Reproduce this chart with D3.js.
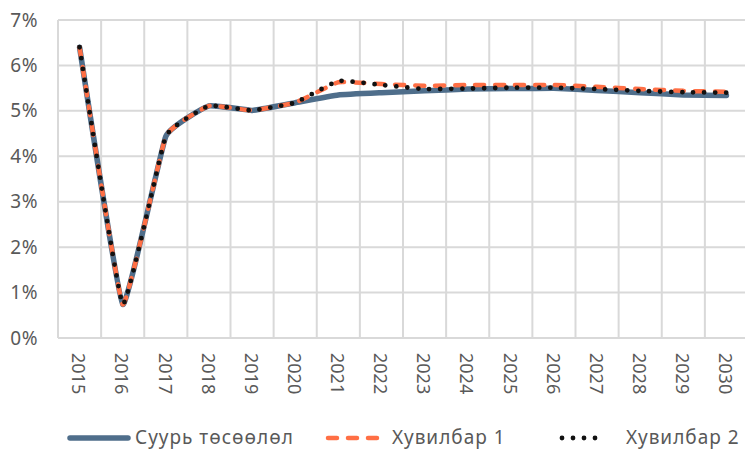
<!DOCTYPE html>
<html>
<head>
<meta charset="utf-8">
<script src="https://cdn.jsdelivr.net/npm/d3@7"></script>
<style>
  body { margin: 0; background: #fff; }
  text { font-family: "Noto Sans", "Open Sans", sans-serif; fill: #595959; }
</style>
</head>
<body>
<div id="chart"></div>
<script>
// years on the x axis
const years = ["2015","2016","2017","2018","2019","2020","2021","2022",
               "2023","2024","2025","2026","2027","2028","2029","2030"];

// values in percent
const baseline = [6.40, 0.74, 4.44, 5.11, 5.01, 5.18, 5.35, 5.40,
                  5.44, 5.48, 5.49, 5.50, 5.45, 5.40, 5.35, 5.34];
const scenario1 = [6.40, 0.74, 4.44, 5.11, 5.01, 5.18, 5.63, 5.59,
                   5.55, 5.57, 5.57, 5.57, 5.53, 5.48, 5.44, 5.42];
const scenario2 = [6.40, 0.74, 4.44, 5.11, 5.01, 5.18, 5.66, 5.57,
                   5.48, 5.49, 5.51, 5.51, 5.48, 5.44, 5.41, 5.40];

const yTicks = [0, 1, 2, 3, 4, 5, 6, 7];

const seriesNames = ["Суурь төсөөлөл", "Хувилбар 1", "Хувилбар 2"];

const W = 745, H = 450;
const plot = {left: 58, right: 748, top: 20, bottom: 338};

const svg = d3.select("#chart").append("svg")
  .attr("width", W).attr("height", H);

const x = d3.scaleBand().domain(years).range([plot.left, plot.right]);
const y = d3.scaleLinear().domain([0, 7]).range([plot.bottom, plot.top]);

// grid
const grid = svg.append("g").attr("stroke", "#d9d9d9").attr("stroke-width", 2);
grid.selectAll("line.h")
  .data(yTicks)
  .enter().append("line")
  .attr("x1", plot.left).attr("x2", plot.right)
  .attr("y1", d => y(d)).attr("y2", d => y(d));
grid.selectAll("line.v")
  .data(years.map(d => x(d)).concat([plot.right]))
  .enter().append("line")
  .attr("x1", d => d).attr("x2", d => d)
  .attr("y1", plot.top).attr("y2", plot.bottom);

// y axis
const yAxis = svg.append("g")
  .attr("transform", `translate(${plot.left - 20},0)`)
  .call(d3.axisLeft(y).tickValues(yTicks).tickFormat(d => d + "%").tickSize(0));
yAxis.select(".domain").remove();
yAxis.selectAll("text")
  .attr("x", 0)
  .style("font-size", "19px")
  .style("letter-spacing", "0.5px")
  .style("fill", "#595959");

// x axis (rotated labels)
const xAxis = svg.append("g")
  .attr("transform", `translate(0,${plot.bottom})`)
  .call(d3.axisBottom(x).tickSize(0));
xAxis.select(".domain").remove();
xAxis.selectAll("text")
  .attr("transform", "rotate(90)")
  .attr("x", 15).attr("y", 0).attr("dy", "0.35em")
  .attr("dx", 0)
  .style("text-anchor", "start")
  .style("font-size", "18px")
  .style("fill", "#595959");
xAxis.selectAll(".tick").attr("transform", d => `translate(${x(d) + x.bandwidth() / 2 - 1},0)`);

// light smoothing, close to straight segments
const line = d3.line()
  .x((d, i) => x(years[i]) + x.bandwidth() / 2)
  .y(d => y(d))
  .curve(d3.curveCardinal.tension(0.7));

const styles = [
  {stroke: "#4f6e8b", width: 5.5, dash: null},
  {stroke: "#ff6f45", width: 4.5, dash: "9,11"},
  {stroke: "#111111", width: 4.8, dash: "0,11"}
];
const allSeries = [baseline, scenario1, scenario2];

allSeries.forEach((s, k) => {
  svg.append("path")
    .datum(s)
    .attr("fill", "none")
    .attr("stroke", styles[k].stroke)
    .attr("stroke-width", styles[k].width)
    .attr("stroke-linecap", "round")
    .attr("stroke-linejoin", "round")
    .attr("stroke-dasharray", styles[k].dash)
    .attr("d", line);
});

// legend
const legendX = [[70, 128, 135], [328, 385, 392], [562, 606, 626]];
const legY = 438;
const legend = svg.append("g");
seriesNames.forEach((name, k) => {
  legend.append("line")
    .attr("x1", legendX[k][0]).attr("x2", legendX[k][1])
    .attr("y1", legY).attr("y2", legY)
    .attr("stroke", styles[k].stroke)
    .attr("stroke-width", styles[k].width)
    .attr("stroke-linecap", "round")
    .attr("stroke-dasharray", styles[k].dash);
  legend.append("text")
    .attr("x", legendX[k][2]).attr("y", legY)
    .attr("dy", "0.32em")
    .style("font-size", "19px")
    .style("letter-spacing", "1px")
    .text(name);
});
</script>
</body>
</html>
